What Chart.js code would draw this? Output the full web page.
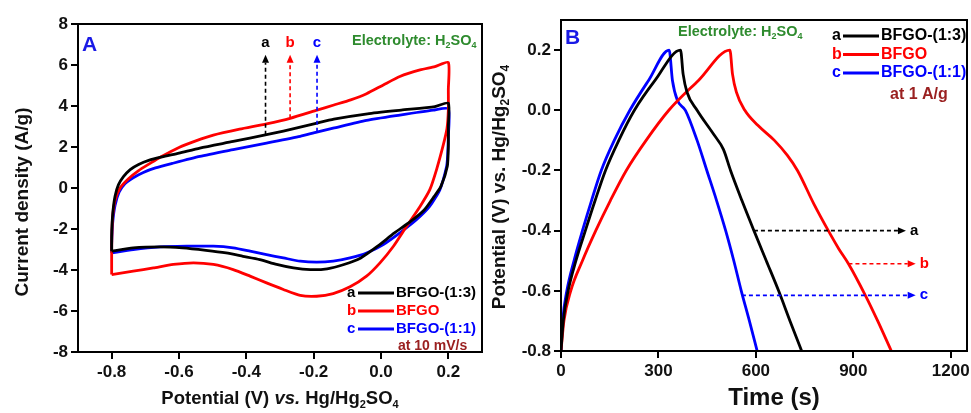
<!DOCTYPE html>
<html><head><meta charset="utf-8">
<script src="https://cdn.jsdelivr.net/npm/chart.js@4.4.1/dist/chart.umd.min.js"></script>
<style>
html,body{margin:0;padding:0;background:#fff;width:971px;height:413px;overflow:hidden;}
canvas{position:absolute;top:0;}
#cA{left:0;} #cB{left:486px;}
</style></head><body>
<canvas id="cA" width="486" height="413"></canvas>
<canvas id="cB" width="485" height="413"></canvas>
<script>
const FONT = '"Liberation Sans", Arial, Helvetica, sans-serif';

// ---------- Series names ----------
const seriesLetters = ['a', 'b', 'c'];
const seriesNames = ['BFGO-(1:3)', 'BFGO', 'BFGO-(1:1)'];
const seriesColors = ['#000000', '#ff0000', '#0000ff'];

// ---------- Panel A: CV at 10 mV/s ----------
const cvXTicks = [-0.8, -0.6, -0.4, -0.2, 0.0, 0.2];
const cvYTicks = [-8, -6, -4, -2, 0, 2, 4, 6, 8];

const cvV_a = [-0.8, -0.8, -0.799, -0.796, -0.79, -0.78, -0.765, -0.745, -0.72, -0.69, -0.65, -0.6, -0.538, -0.439, -0.34, -0.29, -0.24, -0.19, -0.14, -0.04, 0.06, 0.16, 0.2, 0.2, 0.2, 0.197, 0.178, 0.158, 0.129, 0.089, 0.04, -0.01, -0.06, -0.11, -0.16, -0.21, -0.26, -0.31, -0.36, -0.41, -0.46, -0.52, -0.59, -0.656, -0.736, -0.8];
const cvI_a = [-3.08, -2.4, -1.8, -1.1, -0.4, 0.15, 0.55, 0.9, 1.15, 1.35, 1.52, 1.7, 1.95, 2.27, 2.6, 2.78, 2.97, 3.17, 3.36, 3.62, 3.8, 3.97, 4.14, 3.0, 2.0, 1.06, 0.08, -0.41, -1.06, -1.62, -2.19, -2.84, -3.41, -3.73, -3.94, -3.98, -3.9, -3.73, -3.49, -3.33, -3.17, -3.04, -2.92, -2.87, -2.92, -3.08];

const cvV_b = [-0.8, -0.8, -0.799, -0.797, -0.79, -0.775, -0.75, -0.72, -0.686, -0.656, -0.6, -0.55, -0.498, -0.42, -0.34, -0.27, -0.19, -0.14, -0.09, -0.043, 0.007, 0.056, 0.116, 0.16, 0.2, 0.2, 0.2, 0.196, 0.185, 0.165, 0.145, 0.116, 0.076, 0.037, -0.003, -0.043, -0.092, -0.142, -0.191, -0.24, -0.29, -0.34, -0.389, -0.439, -0.498, -0.557, -0.617, -0.676, -0.736, -0.8];
const cvI_b = [-4.22, -3.0, -2.1, -1.4, -0.6, 0.0, 0.45, 0.85, 1.2, 1.5, 1.98, 2.3, 2.58, 2.87, 3.13, 3.4, 3.8, 4.05, 4.3, 4.6, 5.03, 5.44, 5.76, 5.92, 6.12, 4.8, 3.8, 2.9, 2.1, 0.9, -0.08, -0.9, -1.87, -2.84, -3.65, -4.3, -4.82, -5.15, -5.28, -5.24, -4.95, -4.63, -4.3, -3.98, -3.73, -3.65, -3.73, -3.9, -4.06, -4.22];

const cvV_c = [-0.8, -0.8, -0.797, -0.79, -0.778, -0.76, -0.736, -0.706, -0.67, -0.62, -0.538, -0.439, -0.34, -0.24, -0.191, -0.142, -0.043, 0.056, 0.155, 0.2, 0.2, 0.198, 0.195, 0.175, 0.145, 0.106, 0.056, 0.007, -0.043, -0.092, -0.142, -0.191, -0.24, -0.29, -0.34, -0.389, -0.439, -0.498, -0.577, -0.656, -0.736, -0.8];
const cvI_c = [-3.17, -2.7, -1.7, -0.85, -0.2, 0.22, 0.5, 0.76, 0.98, 1.2, 1.54, 1.87, 2.19, 2.52, 2.73, 2.92, 3.3, 3.56, 3.8, 3.86, 2.5, 1.6, 1.06, -0.08, -0.89, -1.54, -2.19, -2.76, -3.17, -3.41, -3.57, -3.62, -3.57, -3.41, -3.25, -3.08, -2.92, -2.84, -2.84, -2.87, -3.0, -3.17];

// arrows marking the curves in panel A (potential, start current, end current)
const cvArrowV = [-0.343, -0.27, -0.19];
const cvArrowFrom = [2.6, 3.4, 2.75];
const cvArrowTo = [6.5, 6.5, 6.5];
const cvArrowLabelI = [7.1, 7.1, 7.1];

// ---------- Panel B: GCD at 1 A/g ----------
const gcdXTicks = [0, 300, 600, 900, 1200];
const gcdYTicks = [-0.8, -0.6, -0.4, -0.2, 0.0, 0.2];

const gcdT_a = [0, 7, 22, 46, 75, 105, 137, 178, 226, 290, 368, 376, 388, 419, 470, 500, 522, 557, 594, 632, 670, 705, 741];
const gcdV_a = [-0.8, -0.7, -0.6, -0.5, -0.4, -0.3, -0.2, -0.1, 0.0, 0.1, 0.2, 0.12, 0.06, 0.0, -0.08, -0.13, -0.2, -0.3, -0.4, -0.5, -0.6, -0.7, -0.8];

const gcdT_b = [0, 9, 30, 66, 107, 152, 201, 262, 332, 424, 520, 528, 540, 566, 606, 657, 697, 728, 778, 823, 855, 885, 937, 975, 1017];
const gcdV_b = [-0.8, -0.7, -0.6, -0.5, -0.4, -0.3, -0.2, -0.1, 0.0, 0.1, 0.2, 0.12, 0.06, 0.0, -0.05, -0.1, -0.15, -0.2, -0.31, -0.4, -0.46, -0.51, -0.615, -0.7, -0.8];

const gcdT_c = [0, 5, 18, 40, 66, 94, 124, 164, 212, 270, 333, 343, 358, 383, 419, 449, 479, 507, 532, 555, 580, 604];
const gcdV_c = [-0.8, -0.7, -0.6, -0.5, -0.4, -0.3, -0.2, -0.1, 0.0, 0.1, 0.2, 0.1, 0.034, 0.0, -0.1, -0.2, -0.3, -0.4, -0.5, -0.6, -0.7, -0.8];

// arrows in panel B (potential level, start time, end time)
const gcdArrowV = [-0.4, -0.51, -0.615];
const gcdArrowFrom = [594, 885, 557];
const gcdArrowTo = [1062, 1092, 1092];

// ---------- helpers ----------
function pts(xs, ys) { return xs.map((x, i) => ({ x: x, y: ys[i] })); }

function richText(ctx, segs, x, y, size, align, color) {
  const parts = segs.map(s => {
    const fs = s.sub ? Math.round(size * 0.62) : size;
    const font = (s.it ? 'italic ' : '') + 'bold ' + fs + 'px ' + FONT;
    ctx.font = font;
    return { t: s.t, font: font, w: ctx.measureText(s.t).width, dy: s.sub ? size * 0.3 : 0 };
  });
  const total = parts.reduce((a, p) => a + p.w, 0);
  let cx = align === 'center' ? x - total / 2 : (align === 'right' ? x - total : x);
  ctx.fillStyle = color; ctx.textAlign = 'left'; ctx.textBaseline = 'middle';
  for (const p of parts) { ctx.font = p.font; ctx.fillText(p.t, cx, y + p.dy); cx += p.w; }
}

function dashedArrow(ctx, x1, y1, x2, y2, color) {
  const ang = Math.atan2(y2 - y1, x2 - x1), hl = 8, hw = 3.5;
  const bx = x2 - hl * Math.cos(ang), by = y2 - hl * Math.sin(ang);
  ctx.save();
  ctx.strokeStyle = color; ctx.fillStyle = color; ctx.lineWidth = 1.6; ctx.setLineDash([4, 3]);
  ctx.beginPath(); ctx.moveTo(x1, y1); ctx.lineTo(bx, by); ctx.stroke();
  ctx.setLineDash([]);
  ctx.beginPath(); ctx.moveTo(x2, y2);
  ctx.lineTo(bx - hw * Math.sin(ang), by + hw * Math.cos(ang));
  ctx.lineTo(bx + hw * Math.sin(ang), by - hw * Math.cos(ang));
  ctx.closePath(); ctx.fill();
  ctx.restore();
}

function legend(ctx, x0, rows, size, extra, extraSize) {
  for (let i = 0; i < 3; i++) {
    const y = rows[i];
    ctx.font = 'bold ' + size + 'px ' + FONT;
    ctx.textBaseline = 'middle'; ctx.textAlign = 'left'; ctx.fillStyle = seriesColors[i];
    ctx.fillText(seriesLetters[i], x0, y);
    ctx.strokeStyle = seriesColors[i]; ctx.lineWidth = 3;
    ctx.beginPath(); ctx.moveTo(x0 + 11, y); ctx.lineTo(x0 + 47, y); ctx.stroke();
    ctx.fillText(seriesNames[i], x0 + 49, y);
  }
  ctx.font = 'bold ' + extraSize + 'px ' + FONT;
  ctx.fillStyle = '#9a2020';
  ctx.fillText(extra.t, x0 + extra.dx, rows[3]);
}

function scaleOpts(min, max, ticksArr, fmt, fitSize, isX) {
  return {
    type: 'linear', min: min, max: max,
    afterBuildTicks: s => { s.ticks = ticksArr.map(v => ({ value: v })); },
    afterFit: s => {
      if (isX) s.height = fitSize; else s.width = fitSize;
      s.paddingLeft = 0; s.paddingRight = 0; s.paddingTop = 0; s.paddingBottom = 0;
    },
    ticks: { font: { family: FONT, size: 17, weight: 'bold' }, color: '#111', padding: 3,
      maxRotation: 0, autoSkip: false, callback: fmt },
    grid: { display: true, drawOnChartArea: false, drawTicks: true, tickLength: 7, color: '#000', lineWidth: 2 },
    border: { display: true, color: '#000', width: 2 },
    title: { display: false }
  };
}

function frame(chart) {
  const { ctx, chartArea: a } = chart;
  ctx.save();
  ctx.strokeStyle = '#000'; ctx.lineWidth = 2;
  ctx.strokeRect(a.left, a.top, a.right - a.left, a.bottom - a.top);
  ctx.restore();
}

// ---------- Panel A chart ----------
const cvSets = [[cvV_a, cvI_a], [cvV_b, cvI_b], [cvV_c, cvI_c]];
new Chart(document.getElementById('cA'), {
  type: 'scatter',
  data: {
    datasets: cvSets.map((s, i) => ({
      label: seriesNames[i], data: pts(s[0], s[1]), showLine: true,
      borderColor: seriesColors[i], backgroundColor: seriesColors[i],
      borderWidth: 2.8, pointRadius: 0, tension: 0.2, fill: false
    }))
  },
  options: {
    responsive: false, animation: false, devicePixelRatio: 1,
    layout: { padding: { top: 24, right: 4, left: 0, bottom: 0 } },
    plugins: { legend: { display: false }, tooltip: { enabled: false } },
    scales: {
      x: scaleOpts(-0.9, 0.3, cvXTicks, v => Number(v).toFixed(1), 61, true),
      y: scaleOpts(-8, 8, cvYTicks, v => String(v), 78, false)
    }
  },
  plugins: [{
    id: 'notesA',
    afterDraw(chart) {
      const ctx = chart.ctx, xs = chart.scales.x, ys = chart.scales.y;
      frame(chart);
      ctx.save();
      for (let i = 0; i < 3; i++) {
        const px = xs.getPixelForValue(cvArrowV[i]);
        dashedArrow(ctx, px, ys.getPixelForValue(cvArrowFrom[i]), px, ys.getPixelForValue(cvArrowTo[i]), seriesColors[i]);
        ctx.font = 'bold 15px ' + FONT; ctx.fillStyle = seriesColors[i];
        ctx.textAlign = 'center'; ctx.textBaseline = 'middle';
        ctx.fillText(seriesLetters[i], px, ys.getPixelForValue(cvArrowLabelI[i]));
      }
      ctx.font = 'bold 21px ' + FONT; ctx.fillStyle = '#1a1ae6'; ctx.textAlign = 'left'; ctx.textBaseline = 'alphabetic';
      ctx.fillText('A', 82, 51);
      richText(ctx, [{ t: 'Electrolyte: H' }, { t: '2', sub: 1 }, { t: 'SO' }, { t: '4', sub: 1 }], 352, 41, 14.5, 'left', '#2e8b2e');
      legend(ctx, 347, [293, 311, 329, 346], 15, { t: 'at 10 mV/s', dx: 51 }, 14);
      richText(ctx, [{ t: 'Potential (V) ' }, { t: 'vs.', it: 1 }, { t: ' Hg/Hg' }, { t: '2', sub: 1 }, { t: 'SO' }, { t: '4', sub: 1 }], 280, 399, 18.5, 'center', '#111');
      ctx.save(); ctx.translate(23, 202); ctx.rotate(-Math.PI / 2);
      richText(ctx, [{ t: 'Current density (A/g)' }], 0, 0, 19, 'center', '#111');
      ctx.restore();
      ctx.restore();
    }
  }]
});

// ---------- Panel B chart ----------
const gcdSets = [[gcdT_a, gcdV_a], [gcdT_b, gcdV_b], [gcdT_c, gcdV_c]];
new Chart(document.getElementById('cB'), {
  type: 'scatter',
  data: {
    datasets: gcdSets.map((s, i) => ({
      label: seriesNames[i], data: pts(s[0], s[1]), showLine: true,
      borderColor: seriesColors[i], backgroundColor: seriesColors[i],
      borderWidth: 2.8, pointRadius: 0, cubicInterpolationMode: 'monotone', fill: false
    }))
  },
  options: {
    responsive: false, animation: false, devicePixelRatio: 1,
    layout: { padding: { top: 20, right: 4, left: 0, bottom: 0 } },
    plugins: { legend: { display: false }, tooltip: { enabled: false } },
    scales: {
      x: scaleOpts(0, 1250, gcdXTicks, v => String(v), 62, true),
      y: scaleOpts(-0.8, 0.3, gcdYTicks, v => Number(v).toFixed(1), 75, false)
    }
  },
  plugins: [{
    id: 'notesB',
    afterDraw(chart) {
      const ctx = chart.ctx, xs = chart.scales.x, ys = chart.scales.y;
      frame(chart);
      ctx.save();
      for (let i = 0; i < 3; i++) {
        const py = ys.getPixelForValue(gcdArrowV[i]);
        const x2 = xs.getPixelForValue(gcdArrowTo[i]);
        dashedArrow(ctx, xs.getPixelForValue(gcdArrowFrom[i]), py, x2, py, seriesColors[i]);
        ctx.font = 'bold 15px ' + FONT; ctx.fillStyle = seriesColors[i];
        ctx.textAlign = 'left'; ctx.textBaseline = 'middle';
        ctx.fillText(seriesLetters[i], x2 + 4, py);
      }
      ctx.font = 'bold 21px ' + FONT; ctx.fillStyle = '#1a1ae6'; ctx.textAlign = 'left'; ctx.textBaseline = 'alphabetic';
      ctx.fillText('B', 79, 44);
      richText(ctx, [{ t: 'Electrolyte: H' }, { t: '2', sub: 1 }, { t: 'SO' }, { t: '4', sub: 1 }], 192, 32, 14.5, 'left', '#2e8b2e');
      legend(ctx, 346, [36, 54.5, 73, 95], 16, { t: 'at 1 A/g', dx: 58 }, 16);
      richText(ctx, [{ t: 'Time (s)' }], 288, 398, 24, 'center', '#111');
      ctx.save(); ctx.translate(14, 187); ctx.rotate(-Math.PI / 2);
      richText(ctx, [{ t: 'Potential (V) vs. Hg/Hg' }, { t: '2', sub: 1 }, { t: 'SO' }, { t: '4', sub: 1 }], 0, 0, 19, 'center', '#111');
      ctx.restore();
      ctx.restore();
    }
  }]
});
</script>
</body></html>
